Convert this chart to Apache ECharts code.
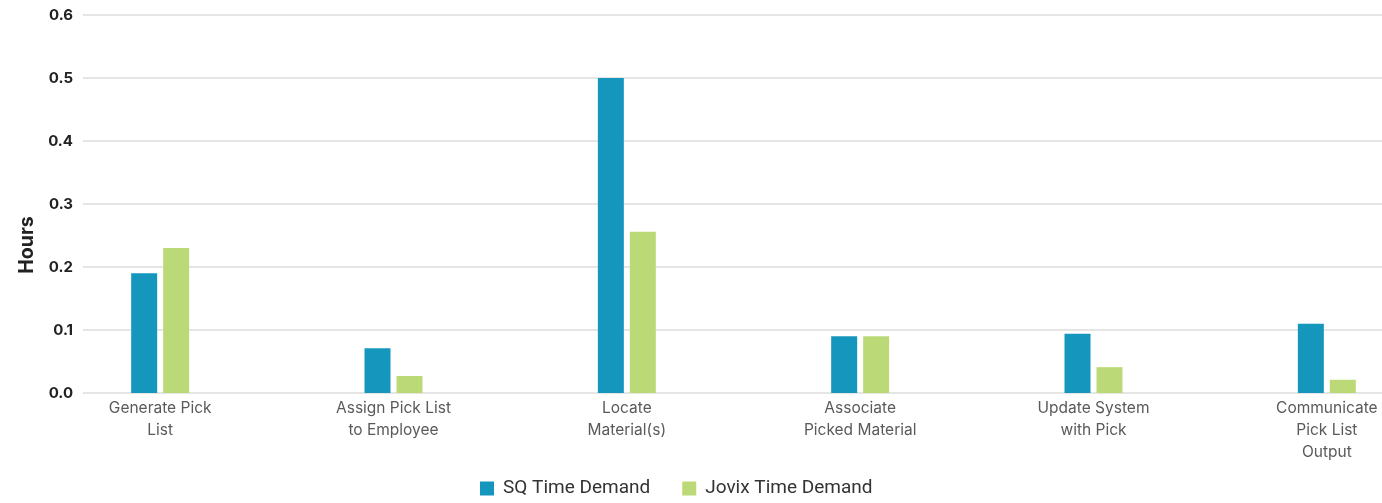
<!DOCTYPE html>
<html><head><meta charset="utf-8">
<script src="https://cdn.jsdelivr.net/npm/echarts@6/dist/echarts.min.js"></script>
<style>html,body{margin:0;padding:0;background:#fff}#c{width:1382px;height:503px}</style>
</head><body><div id="c"></div>
<script>
const categories = ["Generate Pick\nList", "Assign Pick List\nto Employee", "Locate\nMaterial(s)", "Associate\nPicked Material", "Update System\nwith Pick", "Communicate\nPick List\nOutput"];
const sqValues = [0.19, 0.071, 0.5, 0.09, 0.094, 0.11];
const jovixValues = [0.23, 0.027, 0.256, 0.09, 0.041, 0.021];
const seriesNames = ["SQ Time Demand", "Jovix Time Demand"];
const FONT = 'Inter, Roboto, "Noto Sans", sans-serif';
const LFONT = 'Roboto, "Noto Sans", sans-serif';
const chart = echarts.init(document.getElementById('c'));
chart.setOption({
  animation: false,
  legend: {
    left: 475, top: 474,
    itemWidth: 14, itemHeight: 14, itemGap: 32,
    icon: 'rect',
    textStyle: { fontSize: 19, color: '#333', fontFamily: LFONT, padding: [0, 0, 0, 4] },
    data: seriesNames
  },
  graphic: [{
    type: 'text', x: 17, y: 245, rotation: Math.PI / 2,
    style: { text: 'Hours', font: 'bold 19.5px ' + FONT, fill: '#222', align: 'center', verticalAlign: 'top' }
  }],
  grid: [
    { left: 43.5, width: 1400, top: 15, bottom: 110, outerBoundsMode: 'none', containLabel: false },
    { left: 83, right: 0, top: 15, bottom: 110, outerBoundsMode: 'none', containLabel: false }
  ],
  xAxis: [
    { type: 'category', gridIndex: 0, data: categories,
      axisLine: { show: false }, axisTick: { show: false },
      axisLabel: { color: '#5a5a5a', fontSize: 15.5, lineHeight: 22, margin: 4, fontFamily: FONT, interval: 0 } },
    { type: 'value', gridIndex: 1, show: false }
  ],
  yAxis: [
    { type: 'value', gridIndex: 0, min: 0, max: 0.6, interval: 0.1, show: false, splitLine: { show: false } },
    { type: 'value', gridIndex: 1, min: 0, max: 0.6, interval: 0.1,
      axisLine: { show: false }, axisTick: { show: false },
      axisLabel: { color: '#222', fontSize: 15, fontWeight: 'bold', margin: 10, fontFamily: FONT, formatter: v => v.toFixed(1) },
      splitLine: { lineStyle: { color: '#dcdcdc', width: 1.5 } } }
  ],
  series: [
    { name: seriesNames[0], type: 'bar', xAxisIndex: 0, yAxisIndex: 0, data: sqValues, barWidth: 26, barGap: '23%', itemStyle: { color: '#1597bd' }, z: 5 },
    { name: seriesNames[1], type: 'bar', xAxisIndex: 0, yAxisIndex: 0, data: jovixValues, barWidth: 26, barGap: '23%', itemStyle: { color: '#bcd978' }, z: 5 }
  ]
});
</script></body></html>
